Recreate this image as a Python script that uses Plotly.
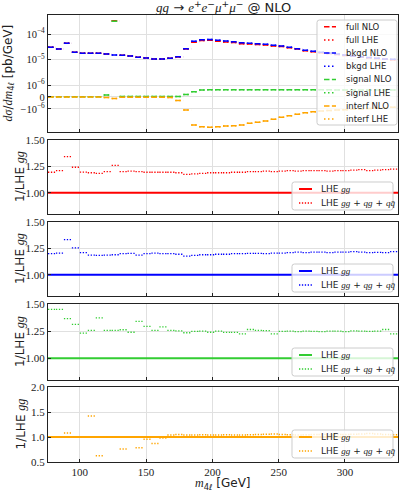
import numpy as np
import plotly.graph_objs as go

# 6 GeV bins from 76 to 340 GeV
edges = np.arange(76, 341, 6)

# top panel, dsigma/dm4l in units of 1e-6 pb/GeV
full_nlo = [30.1, 25.8, 43.2, 19.2, 17.8, 17.5, 17.5, 16.6, 335.0, 14.8, 13.7, 12.2, 11.5, 10.5, 10.5, 11.2,
            12.6, 25.6, 47.7, 55.4, 56.4, 52.3, 49.1, 46.0, 41.9, 40.2, 39.0, 37.1, 34.2, 32.4, 28.9, 25.6,
            22.2, 20.3, 18.6, 17.3, 15.9, 14.5, 13.3, 12.4, 11.6, 10.9, 10.2, 9.9]
bkgd_nlo = [30.1, 25.8, 43.2, 19.2, 17.5, 17.5, 17.5, 16.4, 15.0, 14.8, 13.7, 12.2, 11.5, 10.5, 10.5, 11.2,
            12.9, 26.5, 51.5, 59.8, 61.0, 56.7, 53.2, 50.0, 45.6, 43.2, 41.7, 39.5, 36.1, 33.9, 30.1, 26.6,
            23.0, 21.0, 19.2, 17.8, 16.4, 15.0, 13.7, 12.8, 12.0, 11.2, 10.5, 10.2]
signal_nlo = [0.02, 0.02, 0.02, 0.02, 0.02, 0.02, 0.03, 0.17, 320.0, 0.04, 0.04, 0.04, 0.04, 0.04, 0.04, 0.04,
              0.05, 0.2, 0.44, 0.58, 0.6, 0.6, 0.6, 0.6, 0.6, 0.6, 0.6, 0.6, 0.6, 0.6, 0.6, 0.6,
              0.6, 0.6, 0.6, 0.6, 0.59, 0.59, 0.59, 0.58, 0.58, 0.58, 0.58, 0.58]
interf_nlo = [-0.01, -0.01, -0.01, -0.01, -0.01, -0.01, -0.01, -0.05, -0.12, -0.02, -0.02, -0.02, -0.02, -0.02,
              -0.02, -0.05, -0.3, -1.1, -4.25, -4.95, -5.2, -4.95, -4.65, -4.55, -4.25, -3.64, -3.3, -2.96,
              -2.54, -2.12, -1.83, -1.61, -1.4, -1.28, -1.2, -1.14, -1.1, -1.07, -1.03, -1.0, -0.96, -0.92,
              -0.89, -0.86]

# ratio panels: LHE (gg+qg+qqbar) / LHE gg
ratio_full = [1.195, 1.21, 1.342, 1.242, 1.197, 1.19, 1.185, 1.20, 1.26, 1.20, 1.205, 1.20, 1.195, 1.195, 1.195,
              1.195, 1.19, 1.175, 1.18, 1.185, 1.19, 1.19, 1.19, 1.195, 1.195, 1.20, 1.20, 1.205, 1.20, 1.205,
              1.21, 1.205, 1.21, 1.21, 1.21, 1.205, 1.21, 1.21, 1.215, 1.22, 1.21, 1.215, 1.22, 1.225]
ratio_bkgd = [1.20, 1.205, 1.334, 1.255, 1.21, 1.187, 1.185, 1.187, 1.19, 1.20, 1.203, 1.187, 1.20, 1.205, 1.20,
              1.20, 1.195, 1.178, 1.185, 1.19, 1.19, 1.195, 1.195, 1.20, 1.20, 1.203, 1.203, 1.20, 1.205, 1.205,
              1.21, 1.215, 1.21, 1.215, 1.215, 1.21, 1.215, 1.215, 1.22, 1.215, 1.21, 1.212, 1.21, 1.22]
ratio_signal = [1.45, 1.45, 1.366, 1.313, 1.231, 1.257, 1.372, 1.257, 1.257, 1.263, 1.24, 1.34, 1.294, 1.257,
                1.29, 1.257, 1.253, 1.235, 1.247, 1.25, 1.24, 1.25, 1.238, 1.238, 1.225, 1.265, 1.257, 1.255,
                1.225, 1.247, 1.25, 1.245, 1.25, 1.248, 1.245, 1.25, 1.25, 1.245, 1.252, 1.25, 1.248, 1.25,
                1.265, 1.225]
ratio_interf = [1.0, 1.0, 1.08, 1.0, 1.0, 1.42, 0.625, 1.0, 1.0, 0.76, 1.0, 0.785, 0.955, 0.87, 0.98, 1.04,
                1.05, 1.04, 1.04, 1.045, 1.04, 1.04, 1.045, 1.04, 1.04, 1.045, 1.05, 1.055, 1.06, 1.05, 1.045,
                1.04, 1.045, 1.05, 1.05, 1.045, 1.05, 1.05, 1.055, 1.06, 1.07, 1.06, 1.05, 1.045]

xticks = [100, 150, 200, 250, 300]

RED, BLUE, GREEN, ORANGE = '#ff0000', '#0000ff', '#32cd32', '#ffa500'
DASH, DOT, RDOT = '5.5px,2.4px', '1.5px,2.5px', '1.3px,1.6px'
SERIF = 'Liberation Serif'
SANS = 'DejaVu Sans'
INK = '#222222'

# plot area in pixels (left, right, top, bottom)
L, R, T, B = 48, 398, 15, 462


def px(x, y):  # pixel position -> paper coords
    return (x - L) / (R - L), (B - y) / (B - T)


def symlog(v, lin=1e-6, linw=0.47):  # matplotlib-like symlog, linear part below 1e-6
    v = np.asarray(v, dtype=float)
    a = np.abs(v)
    out = np.where(a > lin, linw + np.log10(np.maximum(a, lin) / lin), linw * a / lin)
    return np.sign(v) * out


def bins(vals):  # one horizontal piece per bin, no verticals
    xs, ys = [], []
    for k, v in enumerate(vals):
        xs += [edges[k], edges[k + 1], None]
        ys += [v, v, None]
    return xs, ys


def serif(s):
    return '<span style="font-family:Liberation Serif"><i>' + s + '</i></span>'


fig = go.Figure()

# --- top panel
top = [('full', full_nlo, RED), ('bkgd', bkgd_nlo, BLUE), ('signal', signal_nlo, GREEN), ('interf', interf_nlo, ORANGE)]
for name, vals, col in top:
    xs, ys = bins(symlog(np.array(vals) * 1e-6))
    for tag, dash in (('NLO', DASH), ('LHE', DOT)):
        fig.add_trace(go.Scatter(x=xs, y=ys, mode='lines', line=dict(color=col, width=1.5, dash=dash),
                                 name=name + ' ' + tag, xaxis='x', yaxis='y', showlegend=False))

# --- ratio panels
ratios = [(ratio_full, RED), (ratio_bkgd, BLUE), (ratio_signal, GREEN), (ratio_interf, ORANGE)]
for i, (vals, col) in enumerate(ratios):
    n = i + 2
    fig.add_trace(go.Scatter(x=[edges[0], edges[-1]], y=[1.0, 1.0], mode='lines', line=dict(color=col, width=2),
                             xaxis='x%d' % n, yaxis='y%d' % n, showlegend=False))
    xs, ys = bins(vals)
    fig.add_trace(go.Scatter(x=xs, y=ys, mode='lines', line=dict(color=col, width=1.3, dash=RDOT),
                             xaxis='x%d' % n, yaxis='y%d' % n, showlegend=False))

# panel extents in pixels (top, bottom)
panels = {1: (15, 132), 2: (140, 214), 3: (222, 296), 4: (304, 380), 5: (387, 462)}
doms = {n: [px(0, b)[1], px(0, t)[1]] for n, (t, b) in panels.items()}

axis_common = dict(showline=True, mirror=True, linecolor=INK, linewidth=1.2, ticks='inside', ticklen=3,
                   tickcolor=INK, showgrid=True, gridcolor='#e0e0e0', gridwidth=1, zeroline=False,
                   tickfont=dict(family=SERIF, size=11, color=INK))

lay = dict(width=399, height=491, margin=dict(l=L, r=399 - R, t=T, b=491 - B), plot_bgcolor='white',
           paper_bgcolor='white', showlegend=False)

for n in range(1, 6):
    xs = '' if n == 1 else str(n)
    lay['xaxis' + xs] = dict(axis_common, domain=[0, 1], range=[76, 340], anchor='y' + xs, tickvals=xticks,
                             showticklabels=(n == 5), matches=None if n == 1 else 'x')
    lay['yaxis' + xs] = dict(axis_common, domain=doms[n], anchor='x' + xs)

ytop = [1e-4, 1e-5, 1e-6, 0.0, -1e-6]
lay['yaxis']['range'] = [-1.373, 3.216]
lay['yaxis']['tickvals'] = list(symlog(ytop))
lay['yaxis']['ticktext'] = ['10<sup>\u22124</sup>', '10<sup>\u22125</sup>', '10<sup>\u22126</sup>', '0',
                            '\u221210<sup>\u22126</sup>']
lay['yaxis']['tickfont'] = dict(family=SERIF, size=10.5, color=INK)
for n in (2, 3, 4):
    lay['yaxis%d' % n].update(range=[0.8, 1.5], tickvals=[1.0, 1.25, 1.5], ticktext=['1.00', '1.25', '1.50'])
lay['yaxis5'].update(range=[0.5, 2.0], tickvals=[0.5, 1.0, 1.5, 2.0], ticktext=['0.5', '1.0', '1.5', '2.0'])

fig.update_layout(**lay)

# --- legends drawn by hand (matplotlib style boxes, rounded corners)
shapes, annos = [], []


def legend_box(x0, y0, x1, y1, r=2.5):
    pts = lambda x, y: '%.5f,%.5f' % px(x, y)
    path = ('M' + pts(x0 + r, y0) + ' L' + pts(x1 - r, y0) + ' Q' + pts(x1, y0) + ' ' + pts(x1, y0 + r) +
            ' L' + pts(x1, y1 - r) + ' Q' + pts(x1, y1) + ' ' + pts(x1 - r, y1) +
            ' L' + pts(x0 + r, y1) + ' Q' + pts(x0, y1) + ' ' + pts(x0, y1 - r) +
            ' L' + pts(x0, y0 + r) + ' Q' + pts(x0, y0) + ' ' + pts(x0 + r, y0) + ' Z')
    shapes.append(dict(type='path', xref='paper', yref='paper', path=path,
                       fillcolor='rgba(255,255,255,0.8)', line=dict(color='#cccccc', width=1), layer='above'))


def legend_item(x0, x1, xt, y, col, dash, width, text, size):
    a, b = px(x0, y)
    c, _ = px(x1, y)
    shapes.append(dict(type='line', xref='paper', yref='paper', x0=a, y0=b, x1=c, y1=b,
                       line=dict(color=col, width=width, dash=dash), layer='above'))
    t, _ = px(xt, y)
    annos.append(dict(text=text, x=t, y=b, xref='paper', yref='paper', xanchor='left', yanchor='middle',
                      showarrow=False, font=dict(family=SANS, size=size, color=INK)))


legend_box(317, 20, 397, 125)
row = 0
for name, _, col in top:
    for tag, dash in (('NLO', DASH), ('LHE', DOT)):
        legend_item(324, 336, 344, 26.7 + 13.2 * row, col, dash, 1.5, name + ' ' + tag, 8.5)
        row += 1

for i, (_, col) in enumerate(ratios):
    pb = panels[i + 2][1]
    legend_box(292, pb - 32, 393, pb - 4)
    legend_item(299, 312, 319, pb - 25, col, 'solid', 2, 'LHE ' + serif('gg'), 9)
    legend_item(299, 312, 319, pb - 11, col, RDOT, 1.3, 'LHE ' + serif('gg') + ' + ' + serif('qg') + ' + ' +
                serif('qq\u0304'), 9)

# title and axis labels
x, y = px(223, 7)
annos.append(dict(text=serif('gg') + ' \u2192 ' + serif('e') + '<sup>+</sup>' + serif('e') + '<sup>\u2212</sup>' +
                  serif('\u03bc') + '<sup>+</sup>' + serif('\u03bc') + '<sup>\u2212</sup> @ NLO',
                  x=x, y=y, xref='paper', yref='paper', xanchor='center', yanchor='middle', showarrow=False,
                  font=dict(family=SANS, size=13, color=INK)))
x, _ = px(8, 0)
annos.append(dict(text=serif('d\u03c3') + '/' + serif('dm') + '<sub>4\u2113</sub> [pb/GeV]',
                  x=x, y=sum(doms[1]) / 2, xref='paper', yref='paper', xanchor='center', yanchor='middle',
                  textangle=-90, showarrow=False, font=dict(family=SANS, size=12, color=INK)))
x, _ = px(20, 0)
for n in (2, 3, 4, 5):
    annos.append(dict(text='1/LHE ' + serif('gg'), x=x, y=sum(doms[n]) / 2, xref='paper', yref='paper',
                      xanchor='center', yanchor='middle', textangle=-90, showarrow=False,
                      font=dict(family=SANS, size=12, color=INK)))
x, y = px(223, 484)
annos.append(dict(text=serif('m') + '<sub>4\u2113</sub> [GeV]', x=x, y=y, xref='paper', yref='paper',
                  xanchor='center', yanchor='middle', showarrow=False, font=dict(family=SANS, size=12, color=INK)))

fig.update_layout(shapes=shapes, annotations=annos)

# page body has a default 8px margin, drop it so the figure sits at 0,0
fig.write_html("out.html", config={'displayModeBar': False}, post_script="document.body.style.margin='0';")
